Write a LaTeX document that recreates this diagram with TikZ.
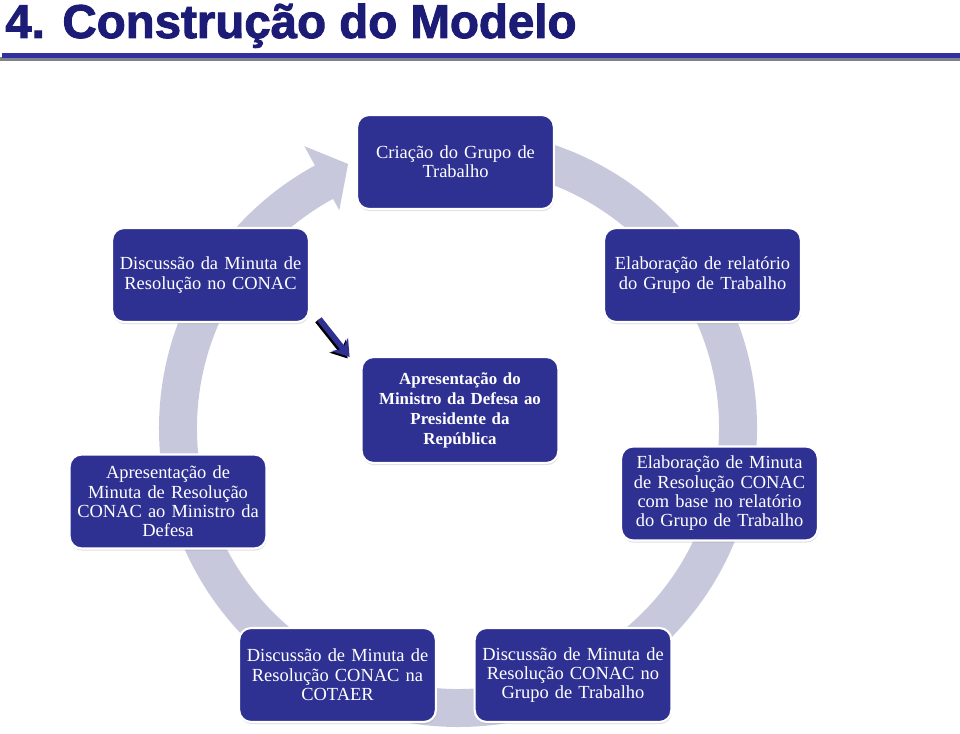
\documentclass[tikz,border=0pt]{standalone}
\usepackage{fontspec}
\setmainfont{Liberation Serif}
\newfontfamily\titlefont[FakeBold=2]{Liberation Sans Bold}
\usetikzlibrary{arrows.meta,shadows}

\definecolor{boxblue}{RGB}{46,49,146}
\definecolor{ringgray}{RGB}{200,200,221}
\definecolor{titleblue}{RGB}{28,28,118}
\definecolor{lineblue}{RGB}{48,48,160}
\definecolor{lineshade}{RGB}{130,130,140}

\tikzset{
	stagebox/.style={shape=rectangle, rounded corners=0.24cm, fill=boxblue, draw=white, line width=1.2pt, minimum width=3.9cm, minimum height=1.88cm, text width=3.7cm, align=center, text=white, font=\fontsize{10.5}{11}\selectfont, drop shadow={opacity=0.25, shadow xshift=0.3pt, shadow yshift=-1.2pt}},
	keybox/.style={stagebox, minimum height=2.12cm, font=\fontsize{9.6}{11.4}\selectfont\bfseries},
	pointer/.style={line width=3.2pt, -{Stealth[length=9pt, width=12pt, inset=3pt]}}
}

\begin{document}
\begin{tikzpicture}
			\useasboundingbox (0, 0) rectangle (19.2, 14.66);
			\node[anchor=base west, inner sep=0pt, text=titleblue, font=\titlefont\fontsize{27}{30}\selectfont] (title) at (0.1, 13.9){4. Construção do Modelo};
			\fill[lineshade] (0, 13.44) rectangle (19.2, 13.52);
			\fill[lineblue] (0.04, 13.50) rectangle (19.2, 13.60);
			\coordinate (hub) at (9.16, 6.10);
			\fill[ringgray] ([shift={(85:5.98)}]hub) arc[start angle=85, end angle=-241.4, radius=5.98] -- ([shift={(118.6:6.42)}]hub) -- ([shift={(112.6:5.72)}]hub) -- ([shift={(118.6:4.96)}]hub) -- ([shift={(118.6:5.22)}]hub) arc[start angle=118.6, end angle=445, radius=5.22] -- cycle;
			\node[stagebox] (grupo) at (9.11, 11.42){Criação do Grupo de\\Trabalho};
			\node[stagebox] (relatorio) at (14.05, 9.16){Elaboração de relatório\\do Grupo de Trabalho};
			\node[stagebox] (minuta) at (14.39, 4.79){Elaboração de Minuta\\de Resolução CONAC\\com base no relatório\\do Grupo de Trabalho};
			\node[stagebox] (discgt) at (11.46, 1.16){Discussão de Minuta de\\Resolução CONAC no\\Grupo de Trabalho};
			\node[stagebox] (disccotaer) at (6.75, 1.16){Discussão de Minuta de\\Resolução CONAC na\\COTAER};
			\node[stagebox] (apministro) at (3.36, 4.63){Apresentação de\\Minuta de Resolução\\CONAC ao Ministro da\\Defesa};
			\node[stagebox] (discconac) at (4.21, 9.16){Discussão da Minuta de\\Resolução no CONAC};
			\node[keybox] (presidente) at (9.20, 6.46){Apresentação do\\Ministro da Defesa ao\\Presidente da\\República};
			\draw[pointer, black] ([shift={(0.15, 0.05)}]discconac.south east) -- ([shift={(-0.26, -0.05)}]presidente.north west);
			\draw[pointer, boxblue] ([shift={(0.19, 0.08)}]discconac.south east) -- ([shift={(-0.22, -0.02)}]presidente.north west);
		\end{tikzpicture}
\end{document}
